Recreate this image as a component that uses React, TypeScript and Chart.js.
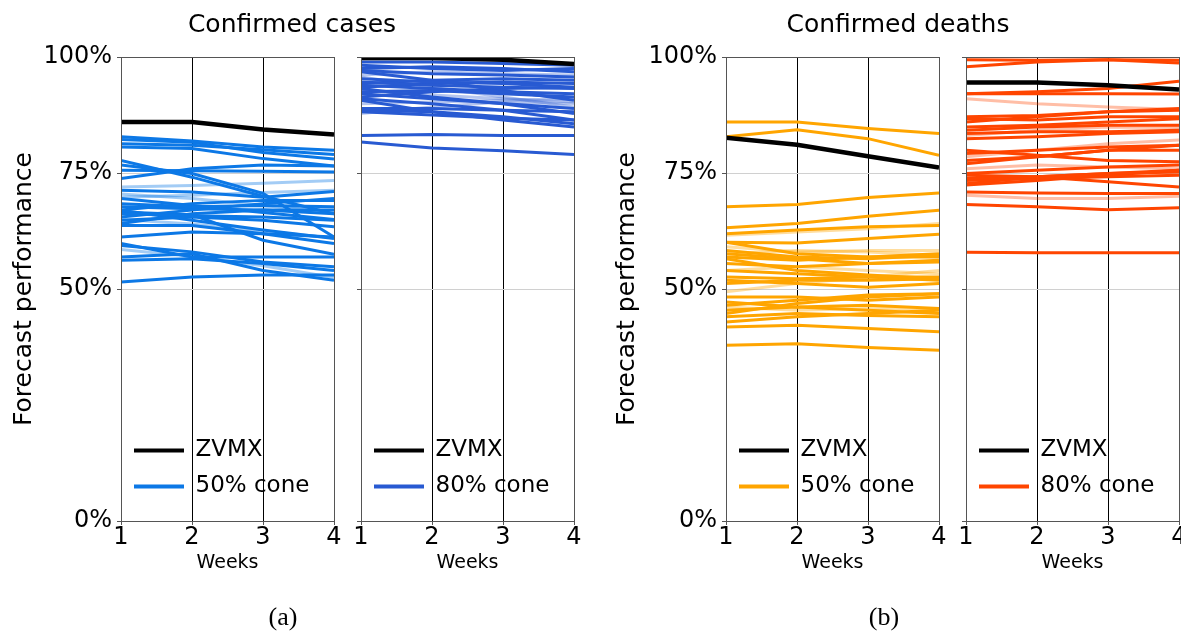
import React, { useEffect, useRef } from 'react';
import { Chart, registerables } from 'chart.js';

Chart.register(...registerables);
Chart.defaults.font.family = '"DejaVu Sans", sans-serif';
Chart.defaults.color = '#000';

// ---------- data ----------
const weeks = [1, 2, 3, 4];
const yTicks = [0, 50, 75, 100];

const casesZvmx50 = [86.0, 86.0, 84.4, 83.3];
const cases50 = [
  [82.8, 81.9, 80.6, 79.9], [82.2, 81.6, 79.4, 78.0], [81.3, 81.0, 80.0, 79.0],
  [80.6, 80.3, 78.1, 76.5], [77.7, 74.1, 70.0, 66.2], [76.7, 74.9, 70.6, 61.2],
  [73.8, 75.9, 76.7, 76.5], [75.6, 75.5, 75.4, 75.2], [71.3, 70.9, 69.8, 71.0],
  [68.4, 67.7, 68.0, 67.7], [67.7, 67.3, 67.0, 67.0], [67.0, 68.4, 69.1, 69.1],
  [66.2, 65.8, 65.5, 64.8], [65.5, 67.0, 68.4, 69.5], [64.8, 65.5, 64.8, 63.4],
  [64.1, 66.2, 67.0, 66.2], [63.7, 63.7, 61.9, 59.8], [61.2, 62.3, 61.9, 61.2],
  [67.0, 64.8, 62.7, 60.9], [59.8, 56.9, 56.9, 56.9], [59.4, 58.0, 55.8, 54.8],
  [56.2, 56.5, 55.5, 54.0], [56.9, 57.6, 54.0, 51.9], [51.5, 52.6, 53.0, 53.0],
  [66.6, 66.0, 60.5, 57.5], [69.5, 68.0, 66.5, 65.0],
];
const cases50Faint = [
  [72.0, 72.3, 72.8, 73.4], [69.8, 70.2, 70.8, 71.3], [70.5, 69.5, 68.0, 66.5],
  [65.0, 64.0, 62.5, 61.0], [58.5, 57.0, 55.0, 52.5],
];

const casesZvmx80 = [99.8, 99.8, 99.4, 98.5];
const cases80 = [
  [98.9, 98.9, 98.6, 98.2], [98.2, 97.5, 97.1, 97.5], [97.5, 97.9, 97.5, 96.8],
  [97.1, 96.4, 96.1, 95.7], [95.3, 94.6, 94.3, 93.5], [94.6, 93.9, 93.5, 93.2],
  [94.3, 95.0, 95.3, 95.0], [93.9, 93.2, 92.5, 92.1], [93.5, 94.3, 94.6, 94.3],
  [93.2, 91.4, 89.9, 87.8], [92.5, 92.8, 92.1, 91.4], [92.1, 91.0, 90.0, 88.9],
  [91.4, 92.5, 93.2, 93.5], [91.0, 89.9, 88.5, 86.4], [90.7, 88.2, 86.4, 84.9],
  [88.9, 88.9, 88.5, 88.2], [88.5, 88.2, 87.1, 85.6], [88.2, 87.5, 86.8, 86.4],
  [96.8, 95.0, 92.8, 90.7], [83.1, 83.3, 83.1, 83.1], [81.7, 80.4, 79.8, 79.0],
];
const cases80Faint = [
  [96.1, 96.8, 96.4, 96.1], [89.9, 90.3, 90.7, 91.0], [87.8, 89.2, 90.3, 90.0],
  [95.7, 93.5, 91.4, 89.2], [92.8, 91.8, 91.0, 90.3],
];

const deathsZvmx50 = [82.6, 81.1, 78.6, 76.2];
const deaths50 = [
  [86.0, 86.0, 84.6, 83.5], [82.8, 84.3, 82.4, 78.8], [67.7, 68.2, 69.7, 70.7],
  [63.2, 64.1, 65.7, 67.0], [61.9, 62.7, 63.4, 63.7], [60.1, 59.9, 60.9, 61.8],
  [60.1, 57.6, 56.9, 56.9], [58.3, 56.9, 56.5, 57.3], [56.9, 56.2, 56.9, 57.6],
  [56.5, 54.0, 53.0, 52.2], [55.5, 54.8, 55.5, 56.2], [54.0, 53.3, 52.6, 51.9],
  [52.6, 52.2, 52.6, 52.6], [51.9, 51.2, 50.4, 51.2], [51.2, 51.9, 51.9, 52.2],
  [48.3, 48.3, 47.6, 48.3], [47.2, 46.1, 46.5, 45.8], [46.5, 47.6, 48.7, 49.0],
  [45.4, 46.1, 45.4, 44.7], [44.7, 46.9, 48.3, 49.0], [44.0, 44.7, 44.3, 44.0],
  [42.9, 44.0, 44.7, 45.4], [41.8, 42.2, 41.5, 40.8], [37.9, 38.2, 37.4, 36.8],
  [57.6, 56.5, 55.5, 55.8],
];
const deaths50Faint = [
  [61.6, 62.3, 63.0, 64.1], [59.1, 58.0, 58.3, 58.3], [54.0, 54.8, 54.0, 53.3],
  [49.4, 51.2, 52.6, 54.0], [46.1, 45.4, 45.8, 45.8], [57.6, 58.3, 58.0, 57.3],
];

const deathsZvmx80 = [94.5, 94.5, 93.9, 93.0];
const deaths80 = [
  [97.9, 98.9, 99.4, 98.7], [99.4, 99.3, 99.4, 99.3], [92.1, 92.5, 93.2, 94.8],
  [92.1, 92.1, 92.1, 92.0], [87.1, 87.4, 88.2, 88.9], [86.7, 86.4, 87.1, 87.1],
  [86.0, 87.1, 88.2, 88.5], [84.9, 85.3, 86.0, 86.7], [84.2, 84.9, 85.3, 85.3],
  [83.5, 83.9, 83.9, 84.2], [82.4, 82.8, 83.5, 83.9], [79.9, 78.8, 77.7, 77.4],
  [79.2, 79.9, 80.6, 81.0], [77.7, 78.5, 79.9, 81.0], [77.0, 78.5, 79.9, 79.9],
  [74.9, 75.6, 76.3, 76.7], [74.5, 74.2, 73.1, 72.0], [73.8, 74.2, 74.9, 75.6],
  [73.4, 73.8, 74.2, 74.5], [72.7, 74.2, 74.9, 75.2], [72.4, 73.4, 74.5, 75.6],
  [70.9, 70.7, 70.6, 70.6], [68.2, 67.7, 67.1, 67.5], [57.9, 57.8, 57.8, 57.8],
];
const deaths80Faint = [
  [91.0, 89.9, 89.2, 88.7], [83.1, 84.2, 84.9, 84.8], [78.5, 79.9, 81.3, 82.1],
  [75.9, 76.7, 76.3, 75.9], [70.2, 69.5, 69.5, 70.0],
];

// ---------- layout / style ----------
type PanelSpec = {
  left: number; yAxisWidth: number; rightPad: number; showY: boolean;
  zvmx: number[]; strong: number[][]; faint: number[][];
  color: string; faintColor: string; cone: string;
};

const panels: PanelSpec[] = [
  { left: 0, yAxisWidth: 121, rightPad: 10, showY: true, zvmx: casesZvmx50, strong: cases50, faint: cases50Faint,
    color: 'rgb(12,120,230)', faintColor: 'rgba(12,120,230,0.38)', cone: '50% cone' },
  { left: 341, yAxisWidth: 20, rightPad: 10, showY: false, zvmx: casesZvmx80, strong: cases80, faint: cases80Faint,
    color: 'rgb(40,90,210)', faintColor: 'rgba(40,90,210,0.35)', cone: '80% cone' },
  { left: 603, yAxisWidth: 123, rightPad: 10, showY: true, zvmx: deathsZvmx50, strong: deaths50, faint: deaths50Faint,
    color: 'rgb(255,165,0)', faintColor: 'rgba(255,165,0,0.38)', cone: '50% cone' },
  { left: 946, yAxisWidth: 20, rightPad: 10, showY: false, zvmx: deathsZvmx80, strong: deaths80, faint: deaths80Faint,
    color: 'rgb(255,69,0)', faintColor: 'rgba(255,69,0,0.35)', cone: '80% cone' },
];

const H = 633;

const toPoints = (vals: number[]) => vals.map((v, i) => ({ x: weeks[i], y: v }));

const framePlugin = {
  id: 'frame',
  afterDraw(chart: any) {
    const { ctx, chartArea: a } = chart;
    ctx.save();
    ctx.strokeStyle = '#555';
    ctx.lineWidth = 1;
    ctx.strokeRect(Math.round(a.left) + 0.5, Math.round(a.top) + 0.5, Math.round(a.right - a.left), Math.round(a.bottom - a.top));
    ctx.restore();
  },
};

const legendPlacer = {
  id: 'legendPlacer',
  afterLayout(chart: any) {
    const lg = chart.legend;
    const a = chart.chartArea;
    if (lg) {
      lg.left = a.left;
      lg.right = a.right;
      lg.top = a.top;
      lg.bottom = a.bottom - 10;
    }
  },
};

function Panel({ spec }: { spec: PanelSpec }) {
  const ref = useRef<HTMLCanvasElement>(null);
  const width = spec.yAxisWidth + 213 + spec.rightPad;
  useEffect(() => {
    if (!ref.current) return;
    const datasets: any[] = [
      { label: 'ZVMX', data: toPoints(spec.zvmx), borderColor: '#000', borderWidth: 4.5, pointRadius: 0, tension: 0 },
      ...spec.strong.map((s) => ({ label: spec.cone, data: toPoints(s), borderColor: spec.color, borderWidth: 3, pointRadius: 0, tension: 0 })),
      ...spec.faint.map((s) => ({ label: spec.cone, data: toPoints(s), borderColor: spec.faintColor, borderWidth: 3, pointRadius: 0, tension: 0 })),
    ];
    const chart = new Chart(ref.current, {
      type: 'line',
      data: { datasets },
      plugins: [framePlugin, legendPlacer],
      options: {
        animation: false,
        responsive: false,
        maintainAspectRatio: false,
        events: [],
        layout: { padding: { left: 0, top: 57, right: spec.rightPad, bottom: 52 } },
        scales: {
          x: {
            type: 'linear', min: 1, max: 4, z: 1,
            afterBuildTicks: (s: any) => { s.ticks = weeks.map((v) => ({ value: v })); },
            afterFit: (s: any) => { s.height = 60; },
            ticks: { font: { size: 24 }, color: '#000', padding: -2, maxRotation: 0, autoSkip: false, callback: (v: any) => String(v) },
            grid: {
              color: (c: any) => (c.tick && (c.tick.value === 2 || c.tick.value === 3) ? '#000' : 'rgba(0,0,0,0)'),
              lineWidth: 1, tickLength: 4, tickColor: '#555', drawTicks: true,
            },
            border: { display: false },
            title: { display: true, text: 'Weeks', font: { size: 19 }, color: '#000', padding: { top: 0, bottom: 7 } },
          },
          y: {
            type: 'linear', min: 0, max: 100,
            afterBuildTicks: (s: any) => { s.ticks = yTicks.map((v) => ({ value: v })); },
            afterFit: (s: any) => { s.width = spec.yAxisWidth; },
            ticks: { font: { size: 24 }, color: '#000', padding: 5, callback: (v: any) => (spec.showY ? `${v}%` : '') },
            grid: { color: '#d0d0d0', lineWidth: 1, tickLength: 4, tickColor: '#555' },
            border: { display: false },
            title: { display: spec.showY, text: 'Forecast performance', font: { size: 25 }, color: '#000', padding: { top: 9, bottom: 0 } },
          },
        },
        plugins: {
          legend: {
            position: 'chartArea' as any,
            align: 'end',
            labels: {
              boxWidth: 50, boxHeight: 4, padding: 13, color: '#000',
              font: { size: 23, lineHeight: '22px' as any },
              generateLabels: () => [
                { text: 'ZVMX', fillStyle: '#000', strokeStyle: '#000', lineWidth: 0, hidden: false, datasetIndex: 0 },
                { text: spec.cone, fillStyle: spec.color, strokeStyle: spec.color, lineWidth: 0, hidden: false, datasetIndex: 1 },
              ],
            },
          },
          tooltip: { enabled: false },
          title: { display: false },
        },
      } as any,
    });
    return () => chart.destroy();
  }, [spec]);
  return (
    <canvas ref={ref} width={width} height={H}
      style={{ position: 'absolute', left: spec.left, top: 0, width, height: H }} />
  );
}

const textBase: React.CSSProperties = { position: 'absolute', textAlign: 'center', whiteSpace: 'nowrap', color: '#000' };

export default function App() {
  return (
    <div style={{ position: 'fixed', left: 0, top: 0, width: 1181, height: H, overflow: 'hidden', background: '#fff' }}>
      {panels.map((p, i) => <Panel key={i} spec={p} />)}
      <div style={{ ...textBase, left: 0, width: 584, top: 9, font: '25px/30px "DejaVu Sans", sans-serif' }}>Confirmed cases</div>
      <div style={{ ...textBase, left: 598, width: 600, top: 9, font: '25px/30px "DejaVu Sans", sans-serif' }}>Confirmed deaths</div>
      <div style={{ ...textBase, left: 233, width: 100, top: 601, font: '26px/32px "Liberation Serif", serif' }}>(a)</div>
      <div style={{ ...textBase, left: 834, width: 100, top: 601, font: '26px/32px "Liberation Serif", serif' }}>(b)</div>
    </div>
  );
}
